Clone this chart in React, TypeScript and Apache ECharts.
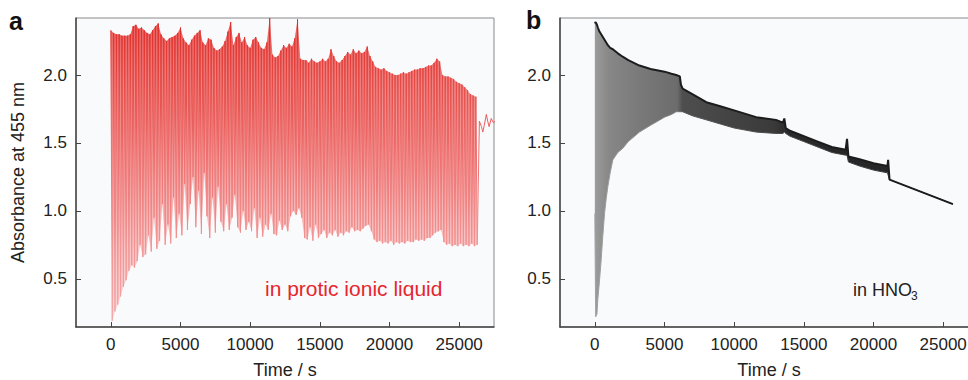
import React, { useEffect, useRef } from "react";
import * as echarts from "echarts";

const FONT = '"Liberation Sans", Arial, Helvetica, sans-serif';

const X_TICKS = [0, 5000, 10000, 15000, 20000, 25000];
const Y_TICKS = [0.5, 1.0, 1.5, 2.0];

// Panel a: oscillation peaks (at t = i*DT) and troughs (at t = i*DT + DT/2)
const A_DT = 200;
const A_PEAKS = [
  2.33, 2.31, 2.30, 2.30, 2.29, 2.29, 2.29, 2.30, 2.36, 2.37,
  2.34, 2.35, 2.33, 2.31, 2.30, 2.33, 2.36, 2.38, 2.30, 2.27,
  2.25, 2.27, 2.28, 2.29, 2.31, 2.35, 2.27, 2.24, 2.22, 2.26,
  2.29, 2.31, 2.33, 2.24, 2.22, 2.27, 2.26, 2.20, 2.18, 2.19,
  2.21, 2.25, 2.32, 2.39, 2.22, 2.28, 2.31, 2.24, 2.28, 2.22,
  2.20, 2.26, 2.28, 2.24, 2.20, 2.19, 2.24, 2.42, 2.15, 2.13,
  2.14, 2.18, 2.22, 2.20, 2.23, 2.21, 2.27, 2.41, 2.12, 2.11,
  2.11, 2.09, 2.12, 2.10, 2.09, 2.10, 2.12, 2.10, 2.12, 2.19,
  2.14, 2.10, 2.09, 2.11, 2.14, 2.17, 2.15, 2.19, 2.16, 2.18,
  2.16, 2.17, 2.21, 2.14, 2.10, 2.06, 2.05, 2.04, 2.05, 2.03,
  2.02, 2.01, 2.00, 2.00, 2.01, 2.02, 2.01, 2.02, 2.03, 2.04,
  2.04, 2.05, 2.05, 2.06, 2.07, 2.07, 2.09, 2.12, 2.10, 2.00,
  1.99, 1.99, 1.98, 1.97, 1.95, 1.94, 1.93, 1.91, 1.89, 1.86, 1.85, 1.84,
];
const A_TROUGHS = [
  0.19, 0.26, 0.31, 0.37, 0.44, 0.49, 0.56, 0.60, 0.58, 0.63,
  0.75, 0.66, 0.68, 0.82, 0.70, 0.95, 0.72, 0.78, 1.05, 0.75,
  0.90, 0.76, 1.10, 0.80, 0.98, 0.82, 1.20, 0.86, 1.05, 1.25,
  0.88, 1.15, 0.83, 1.28, 0.96, 0.80, 1.10, 0.84, 1.18, 0.92,
  0.85, 1.05, 0.86, 0.95, 1.12, 0.88, 0.84, 1.00, 0.86, 0.92,
  0.85, 1.02, 0.80, 0.95, 0.81, 0.90, 0.86, 0.98, 0.83, 0.82,
  0.93, 0.86, 0.90, 0.85, 0.96, 1.00, 0.97, 1.02, 0.95, 0.80,
  0.79, 0.88, 0.78, 0.90, 0.80, 0.83, 0.86, 0.80, 0.84, 0.82,
  0.86, 0.81, 0.84, 0.82, 0.85, 0.84, 0.88, 0.85, 0.86, 0.85,
  0.87, 0.89, 0.90, 0.85, 0.79, 0.77, 0.78, 0.76, 0.77, 0.76,
  0.78, 0.75, 0.77, 0.76, 0.77, 0.76, 0.78, 0.77, 0.77, 0.79,
  0.78, 0.79, 0.78, 0.80, 0.80, 0.82, 0.84, 0.85, 0.86, 0.77,
  0.75, 0.76, 0.74, 0.75, 0.74, 0.76, 0.74, 0.75, 0.74, 0.76, 0.74, 0.75,
];
const A_TAIL_T = [26450, 26600, 26700, 26800, 26950, 27050, 27150, 27300, 27450, 27600];
const A_TAIL_V = [1.66, 1.62, 1.58, 1.63, 1.71, 1.66, 1.62, 1.68, 1.65, 1.66];

// Panel b: envelope of the dense oscillation band
const B_T = [
  0, 60, 150, 215, 330, 455, 575, 695, 815, 935,
  1100, 1290, 1650, 2000, 2400, 3200, 4000, 5000, 5500, 5840,
  6100, 6180, 6300, 7000, 8000, 9000, 10000, 11580, 13000, 13500,
  13600, 13700, 14000, 15000, 16000, 17000, 18000, 18100, 18200, 19000,
  20000, 21000, 21050, 21150, 25700,
];
const B_UPPER = [
  2.38, 2.39, 2.37, 2.35, 2.32, 2.30, 2.28, 2.26, 2.24, 2.22,
  2.20, 2.19, 2.16, 2.135, 2.11, 2.07, 2.045, 2.025, 2.01, 2.00,
  1.99, 1.93, 1.90, 1.86, 1.80, 1.77, 1.74, 1.69, 1.67, 1.65,
  1.68, 1.61, 1.59, 1.55, 1.51, 1.47, 1.45, 1.53, 1.40, 1.38,
  1.35, 1.33, 1.375, 1.23, 1.05,
];
const B_LOWER = [
  0.98, 0.22, 0.24, 0.35, 0.48, 0.64, 0.82, 0.98, 1.09, 1.18,
  1.28, 1.375, 1.43, 1.46, 1.51, 1.58, 1.63, 1.69, 1.71, 1.73,
  1.73, 1.73, 1.73, 1.70, 1.67, 1.64, 1.61, 1.58, 1.57, 1.57,
  1.58, 1.57, 1.55, 1.51, 1.47, 1.43, 1.41, 1.41, 1.36, 1.33,
  1.30, 1.28, 1.28, 1.23, 1.05,
];

const PLOT_BG = "#f9fafc";

function bandSeries(
  gi: number,
  upperT: number[], upperV: number[],
  lowerT: number[], lowerV: number[],
  fill: any,
) {
  return {
    type: "custom",
    xAxisIndex: gi,
    yAxisIndex: gi,
    silent: true,
    clip: true,
    z: 1,
    data: [[upperT[0], upperV[0]]],
    renderItem: (params: any, api: any) => {
      if (params.dataIndex !== 0) return null;
      const pts: number[][] = [];
      upperT.forEach((t, i) => pts.push(api.coord([t, upperV[i]])));
      for (let i = lowerT.length - 1; i >= 0; i--) pts.push(api.coord([lowerT[i], lowerV[i]]));
      return { type: "polygon", shape: { points: pts }, style: { fill } };
    },
  };
}

function buildOption() {
  const aZig: number[][] = [];
  const aPeakT: number[] = [];
  const aTroughT: number[] = [];
  A_PEAKS.forEach((p, i) => {
    aZig.push([i * A_DT, p]);
    aZig.push([i * A_DT + A_DT / 2, A_TROUGHS[i]]);
    aPeakT.push(i * A_DT);
    aTroughT.push(i * A_DT + A_DT / 2);
  });
  A_TAIL_T.forEach((t, i) => aZig.push([t, A_TAIL_V[i]]));

  const bLower = B_T.map((t, i) => [t, B_LOWER[i]]);
  const bUpper = B_T.map((t, i) => [t, B_UPPER[i]]);

  const textStyle = { fontFamily: FONT, color: "#222" };

  const mkX = (gi: number) => ({
    type: "value",
    gridIndex: gi,
    min: -2500,
    max: 27500,
    axisLine: { show: true, onZero: false, lineStyle: { color: "#444", width: 1.5 } },
    axisTick: { show: true, inside: true, length: 5, customValues: X_TICKS, lineStyle: { color: "#444" } },
    axisLabel: { customValues: X_TICKS, formatter: (v: number) => String(v), fontSize: 17, margin: 9, ...textStyle },
    splitLine: { show: false },
    name: "Time / s",
    nameLocation: "middle",
    nameGap: 34,
    nameTextStyle: { fontSize: 18, ...textStyle },
    z: 10,
  });
  const mkY = (gi: number, withName: boolean) => ({
    type: "value",
    gridIndex: gi,
    min: 0.145,
    max: 2.42,
    axisLine: { show: true, onZero: false, lineStyle: { color: "#444", width: 1.5 } },
    axisTick: { show: true, inside: true, length: 5, customValues: Y_TICKS, lineStyle: { color: "#444" } },
    axisLabel: { customValues: Y_TICKS, formatter: (v: number) => v.toFixed(1), fontSize: 17, margin: 9, ...textStyle },
    splitLine: { show: false },
    name: withName ? "Absorbance at 455 nm" : "",
    nameLocation: "middle",
    nameGap: 49,
    nameTextStyle: { fontSize: 18, ...textStyle },
    z: 10,
  });

  const redLine = new echarts.graphic.LinearGradient(0, 0, 0, 1, [
    { offset: 0, color: "#df2a27" },
    { offset: 0.15, color: "#e43f3b" },
    { offset: 0.45, color: "#ed6f6e" },
    { offset: 0.75, color: "#f29393" },
    { offset: 1, color: "#f4a6a6" },
  ]);
  const redFill = new echarts.graphic.LinearGradient(0, 0, 0, 1, [
    { offset: 0, color: "#e85f5c" },
    { offset: 0.2, color: "#ee817f" },
    { offset: 0.5, color: "#f4a9a8" },
    { offset: 0.8, color: "#f8c9c9" },
    { offset: 1, color: "#fad6d6" },
  ]);
  const bandGrad = new echarts.graphic.LinearGradient(0, 0, 1, 0, [
    { offset: 0, color: "#9c9c9c" },
    { offset: 0.04, color: "#878787" },
    { offset: 0.12, color: "#7a7a7a" },
    { offset: 0.23, color: "#6c6c6c" },
    { offset: 0.245, color: "#4e4e4e" },
    { offset: 0.5, color: "#3a3a3a" },
    { offset: 0.54, color: "#2a2a2a" },
    { offset: 1, color: "#232323" },
  ]);
  const lowGrad = new echarts.graphic.LinearGradient(0, 0, 1, 0, [
    { offset: 0, color: "#a0a0a0" },
    { offset: 0.23, color: "#808080" },
    { offset: 0.245, color: "#555555" },
    { offset: 1, color: "#333333" },
  ]);

  const gridBase = {
    show: true, backgroundColor: PLOT_BG, borderColor: "#8a8a8a", borderWidth: 1,
    containLabel: false, outerBoundsMode: "none",
  };
  const common = { symbol: "none", silent: true };

  return {
    animation: false,
    grid: [
      { left: 76, top: 18, width: 418, height: 309, ...gridBase },
      { left: 560, top: 18, width: 418, height: 309, ...gridBase },
    ],
    xAxis: [mkX(0), mkX(1)],
    yAxis: [mkY(0, true), mkY(1, false)],
    series: [
      // panel a: pink band between peaks and troughs, then the oscillation trace
      bandSeries(0, aPeakT, A_PEAKS, aTroughT, A_TROUGHS, redFill),
      {
        type: "line", xAxisIndex: 0, yAxisIndex: 0, data: aZig, ...common, z: 3,
        lineStyle: { width: 1, color: redLine },
      },
      // panel b: band between upper and lower envelopes
      bandSeries(1, B_T, B_UPPER, B_T, B_LOWER, bandGrad),
      {
        type: "line", xAxisIndex: 1, yAxisIndex: 1, data: bLower, ...common, z: 2,
        lineStyle: { width: 1, color: lowGrad },
      },
      {
        type: "line", xAxisIndex: 1, yAxisIndex: 1, data: bUpper, ...common, z: 3,
        lineStyle: { width: 2, color: "#1c1c1c" },
      },
    ],
    graphic: [
      { type: "text", left: 9, top: 8, style: { text: "a", font: `bold 25px ${FONT}`, fill: "#111" } },
      { type: "text", left: 526, top: 7, style: { text: "b", font: `bold 25px ${FONT}`, fill: "#111" } },
      { type: "text", left: 265, top: 278, style: { text: "in protic ionic liquid", font: `21px ${FONT}`, fill: "#e6262e" } },
      { type: "text", left: 853, top: 281, style: { text: "in HNO", font: `18px ${FONT}`, fill: "#222" } },
      { type: "text", left: 911, top: 290, style: { text: "3", font: `12px ${FONT}`, fill: "#222" } },
    ],
  };
}

export default function App() {
  const ref = useRef<HTMLDivElement>(null);
  useEffect(() => {
    const chart = echarts.init(ref.current!, null, { renderer: "svg" });
    chart.setOption(buildOption() as any);
    return () => chart.dispose();
  }, []);
  return (
    <div style={{ position: "fixed", left: 0, top: 0, width: 968, height: 380, overflow: "hidden", background: "#fff" }}>
      <div ref={ref} style={{ width: 990, height: 380 }} />
    </div>
  );
}
